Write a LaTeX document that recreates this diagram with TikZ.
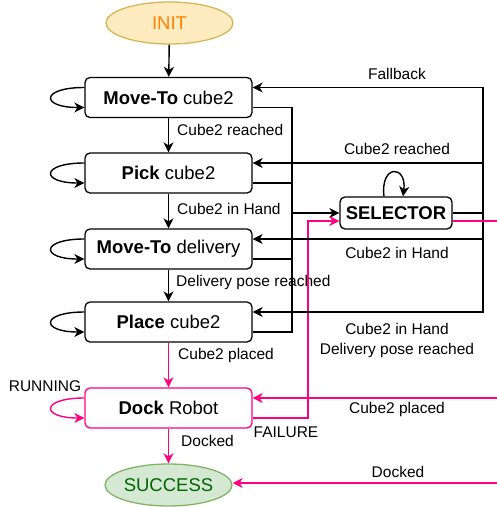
\documentclass[tikz,border=0pt]{standalone}
\usepackage{fontspec}
\setmainfont{Liberation Sans}
\usetikzlibrary{arrows.meta,shapes.geometric}
\definecolor{pinkc}{HTML}{FF0080}
\definecolor{initfill}{HTML}{FFEBC0}
\definecolor{initdraw}{HTML}{D6B656}
\definecolor{inittext}{HTML}{FF8000}
\definecolor{succfill}{HTML}{D5E8D4}
\definecolor{succdraw}{HTML}{82B366}
\definecolor{succtext}{HTML}{006600}
\begin{document}
\begin{tikzpicture}[x=1pt,y=-1pt,
  box/.style={draw, rounded corners=5pt, line width=1.3pt, minimum width=167pt, minimum height=40pt, font=\fontsize{18.5}{22}\selectfont, inner sep=0pt},
  ell/.style={ellipse, line width=1.3pt, minimum width=127pt, minimum height=42pt, inner sep=0pt, font=\fontsize{18.5}{22}\selectfont},
  lbl/.style={font=\fontsize{15.5}{18}\selectfont, inner sep=0pt},
  arr/.style={line width=1.4pt, -{Stealth[length=10pt,width=10pt,inset=3pt]}},
  ln/.style={line width=1.4pt},
]
\useasboundingbox (0,0) rectangle (497,507);
\clip (0,0) rectangle (497,507);

% nodes
\node[ell, draw=initdraw, fill=initfill, text=inittext] (init) at (169.5,23) {INIT};
\node[box] (mt1) at (168.5,97.5) {\textbf{Move-To} cube2};
\node[box] (pick) at (168.5,173) {\textbf{Pick} cube2};
\node[box] (mtd) at (168.5,249) {\textbf{Move-To} delivery};
\node[box] (place) at (168.5,322) {\textbf{Place} cube2};
\node[box, draw=pinkc] (dock) at (168.5,408) {\textbf{Dock} Robot};
\node[ell, draw=succdraw, fill=succfill, text=succtext] (succ) at (168.5,485) {SUCCESS};
\node[box, minimum width=112pt, minimum height=32pt, font=\fontsize{18.5}{22}\selectfont\bfseries] (sel) at (396,213) {SELECTOR};

\coordinate (L) at (292,213);
\coordinate (LP) at (308,221);
\coordinate (R) at (483,213);
\coordinate (RP) at (515,221);

% main chain
\draw[arr] (init) -- (mt1);
\draw[arr] (mt1) -- (pick);
\draw[arr] (pick) -- (mtd);
\draw[arr] (mtd) -- (place);
\draw[arr, pinkc] (place) -- (dock);
\draw[arr, pinkc] (dock) -- (succ);

% left-side labels
\node[lbl, anchor=west] (l1) at (177,130) {Cube2 reached};
\node[lbl, anchor=west] (l2) at (177,209) {Cube2 in Hand};
\node[lbl, anchor=west] (l3) at (176,282) {Delivery pose reached};
\node[lbl, anchor=west] (l4) at (178,355) {Cube2 placed};
\node[lbl, anchor=west] (l5) at (181,441) {Docked};

% self loops
\foreach \b in {mt1,pick,mtd,place}{
  \draw[arr] ([yshift=10pt]\b.west) .. controls +(-44,0) and +(-44,0) .. ([yshift=-10pt]\b.west);
}
\draw[arr, pinkc] ([yshift=10pt]dock.west) .. controls +(-44,0) and +(-44,0) .. ([yshift=-10pt]dock.west);
\node[lbl] (running) at (45,386) {RUNNING};
\draw[arr] ([xshift=-12pt]sel.north) .. controls +(-4,-32) and +(4,-32) .. ([xshift=7pt]sel.north);

% boxes to selector
\foreach \b in {mt1,pick,mtd,place}{
  \draw[ln] ([yshift=-10pt]\b.east) -| (L);
}
\draw[arr] (L) -- (sel.west);
\draw[arr, pinkc] ([yshift=-10pt]dock.east) -| (LP) -- ([yshift=-8pt]sel.west);
\node[lbl] (fail) at (286,432) {FAILURE};

% selector to boxes
\draw[ln] (sel.east) -- (R);
\draw[arr] (R) |- ([yshift=10pt]mt1.east);
\draw[arr] (R) |- ([yshift=10pt]pick.east);
\draw[arr] (R) |- ([yshift=10pt]mtd.east);
\draw[arr] (R) |- ([yshift=10pt]place.east);
\draw[ln, pinkc] ([yshift=-8pt]sel.east) -- (RP);
\draw[arr, pinkc] (RP) |- ([yshift=10pt]dock.east);
\draw[arr, pinkc] (RP) |- ([yshift=2pt]succ.east);

% right-side labels
\node[lbl] (r1) at (397,74) {Fallback};
\node[lbl] (r2) at (397,149) {Cube2 reached};
\node[lbl] (r3) at (397,253) {Cube2 in Hand};
\node[lbl] (r4) at (397,329) {Cube2 in Hand};
\node[lbl] (r5) at (397,350) {Delivery pose reached};
\node[lbl] (r6) at (397,409) {Cube2 placed};
\node[lbl] (r7) at (398,472) {Docked};
\end{tikzpicture}
\end{document}
